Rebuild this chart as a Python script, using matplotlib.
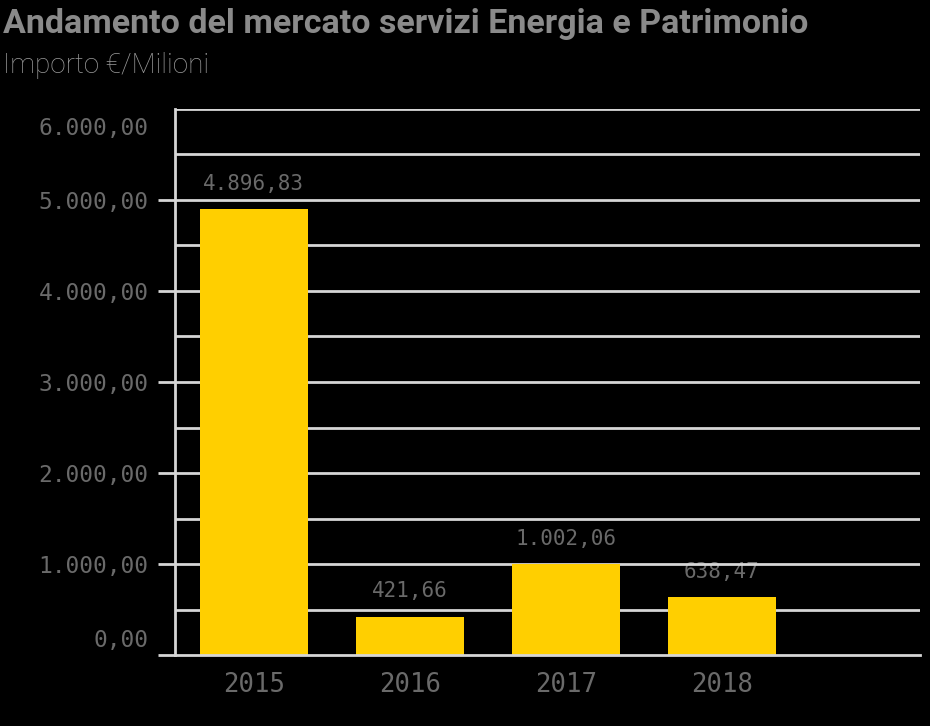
import matplotlib.pyplot as plt
import matplotlib.transforms as mtransforms
import numpy as np

# dati
anni = ['2015', '2016', '2017', '2018']
importi = [4896.83, 421.66, 1002.06, 638.47]
etichette = ['4.896,83', '421,66', '1.002,06', '638,47']
yticks = [0, 1000, 2000, 3000, 4000, 5000, 6000]
ytick_labels = ['0,00', '1.000,00', '2.000,00', '3.000,00', '4.000,00', '5.000,00', '6.000,00']

titolo = 'Andamento del mercato servizi Energia e Patrimonio'
sottotitolo = 'Importo €/Milioni'

giallo = '#ffcf00'
grigio = '#6a6a6a'
linea = '#d6d6d6'
mono = ['DejaVu Sans Mono']
sans = ['Roboto', 'DejaVu Sans']

fig = plt.figure(figsize=(9.3, 7.26), dpi=100, facecolor='black')
ax = fig.add_axes([175/930, 71/726, 745/930, 546/726])
ax.set_facecolor('black')

x = np.arange(len(anni))
ax.bar(x, importi, width=0.69, color=giallo, zorder=3)

# etichette dei valori (sotto la griglia)
for xi, v, t in zip(x, importi, etichette):
    ax.annotate(t, (xi, v), xytext=(0, 11), textcoords='offset points',
                ha='center', va='bottom', color=grigio, fontsize=15,
                family=mono, zorder=1)

ax.set_xlim(-0.506, 4.27)
ax.set_ylim(0, 6000)

# griglia ogni 500
for g in np.arange(500, 6001, 500):
    ax.axhline(g, color=linea, lw=2, zorder=2)
ax.axhline(0, color=linea, lw=2, zorder=4, clip_on=False)

ax.set_yticks(yticks)
ax.set_yticklabels(ytick_labels, family=mono, fontsize=16.5, color=grigio)
ax.tick_params(axis='y', length=12, width=2, color=linea, pad=7)
ticks = ax.yaxis.get_major_ticks()
ticks[-1].tick1line.set_visible(False)
# etichette estreme spostate dentro l'asse
l0 = ticks[0].label1
l0.set_va('bottom')
l0.set_transform(l0.get_transform() + mtransforms.ScaledTranslation(0, 3/100, fig.dpi_scale_trans))
l6 = ticks[-1].label1
l6.set_va('top')
l6.set_transform(l6.get_transform() + mtransforms.ScaledTranslation(0, -8/100, fig.dpi_scale_trans))

ax.set_xticks(x)
ax.set_xticklabels(anni, family=mono, fontsize=18.5, color=grigio)
ax.tick_params(axis='x', length=0, pad=12)

for s in ['top', 'right', 'bottom']:
    ax.spines[s].set_visible(False)
ax.spines['left'].set_color(linea)
ax.spines['left'].set_linewidth(2)
ax.spines['left'].set_zorder(5)

fig.text(3/930, 1 - 33/726, titolo, ha='left', va='baseline', color='#8a8a8a',
         fontsize=24.5, fontweight='bold', family=sans)
fig.text(3/930, 1 - 73/726, sottotitolo, ha='left', va='baseline', color='#9a9a9a',
         fontsize=20, fontweight='light', family=sans)

plt.savefig('out.png', dpi=100, facecolor='black')
